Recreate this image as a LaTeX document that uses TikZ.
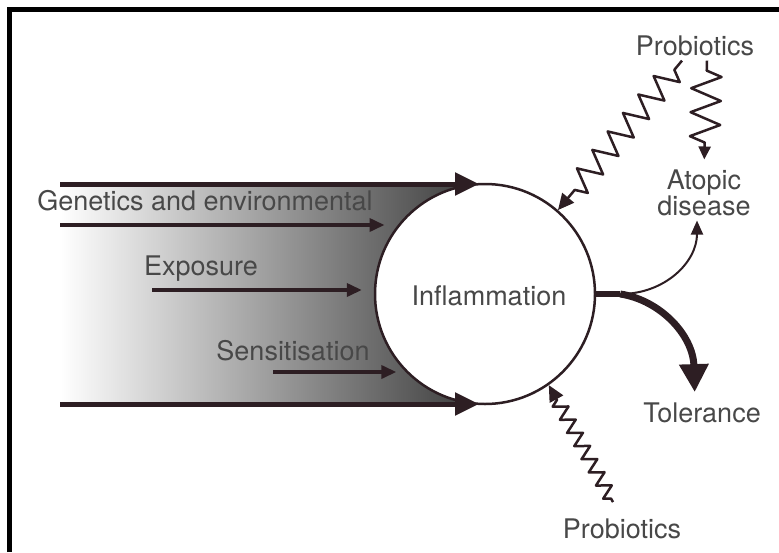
\documentclass[tikz,border=0pt]{standalone}
\usepackage{fontspec}
\setmainfont{TeX Gyre Heros}
\usepackage{tikz}
\usetikzlibrary{arrows.meta}
\usetikzlibrary{decorations.pathmorphing}
\usetikzlibrary{positioning}

\definecolor{ink}{RGB}{45,30,35}
\definecolor{txt}{RGB}{72,72,72}

\begin{document}
\begin{tikzpicture}[x=1pt, y=-1pt, font=\fontsize{27}{23}\selectfont,
    word/.style={text=txt, inner sep=0pt, align=center},
    flow/.style={draw=ink, line width=5pt, -{Triangle[length=24pt,width=22pt]}},
    feed/.style={draw=ink, line width=3.5pt, -{Triangle[length=15pt,width=13pt]}},
    zz/.style={draw=ink, line width=2.5pt, line join=round, decorate, decoration={zigzag, #1}},
    ]
      \useasboundingbox (0,0) rectangle (779,552);
      \draw[line width=5pt, line join=miter] (9.5,552) -- (9.5,9.5) -- (779,9.5);
      \shade[left color=white, right color=black!78] (60,184) rectangle (485,404);

      \node[circle, draw=ink, line width=2.5pt, fill=white, minimum size=220pt, inner sep=0pt, text=txt] (inflam) at (485,294) {};
      \node[word, anchor=base] (infl) at (489,305) {Inflammation};

      \coordinate (top) at (60,184);
      \coordinate (bot) at (60,404);
      \coordinate (gen) at (60,225);
      \coordinate (exp) at (152,290);
      \coordinate (sen) at (273,372);
      \draw[flow, shorten >=6pt] (top) -- (top -| inflam.north);
      \draw[flow, shorten >=6pt] (bot) -- (bot -| inflam.south);
      \draw[feed, shorten >=14pt] (gen) -- (gen -| inflam.141);
      \draw[feed, shorten >=12pt] (exp) -- (exp -| inflam.178);
      \draw[feed, shorten >=10pt] (sen) -- (sen -| inflam.225);

      \node[word, anchor=base] (genlbl) at (205,210) {Genetics and environmental};
      \node[word, anchor=base] (explbl) at (201,275) {Exposure};
      \node[word, anchor=base] (senlbl) at (293,360) {Sensitisation};

      \node[word, anchor=base] (probtop) at (695,55) {Probiotics};
      \node[word, anchor=base] (probbot) at (622,538) {Probiotics};
      \node[word] (atopic) at (704,193) {Atopic\\disease};
      \node[word, anchor=base] (tol) at (702,422) {Tolerance};

      \draw[zz={segment length=24pt, amplitude=12pt, pre length=12pt, post length=22pt}, -{Triangle[length=16pt,width=15pt]}]
        ([shift={(-13,5)}]probtop.south) -- (inflam.49);
      \draw[zz={segment length=24pt, amplitude=15pt, pre length=10pt, post length=20pt}, -{Triangle[length=13pt,width=12pt]}, shorten >=10pt]
        ([shift={(12,5)}]probtop.south) -- (atopic.north);
      \draw[zz={segment length=15pt, amplitude=7pt, pre length=4pt, post length=14pt}, -{Triangle[length=16pt,width=15pt]}]
        ([shift={(-9,-16)}]probbot.north) -- (inflam.305);

      \coordinate (fork) at ([xshift=24pt]inflam.east);
      \draw[ink, line width=6pt] (inflam.east) -- (fork);
      \draw[ink, line width=2pt, -{Triangle[length=14pt,width=12pt]}, shorten >=4pt]
        (fork) .. controls (665,294) and (697,262) .. ([xshift=-7pt]atopic.south);
      \draw[ink, line width=7pt, -{Triangle[length=28pt,width=28pt]}, shorten >=10pt]
        (fork) .. controls (660,300) and (693,335) .. ([xshift=-7pt]tol.north);
\end{tikzpicture}
\end{document}
